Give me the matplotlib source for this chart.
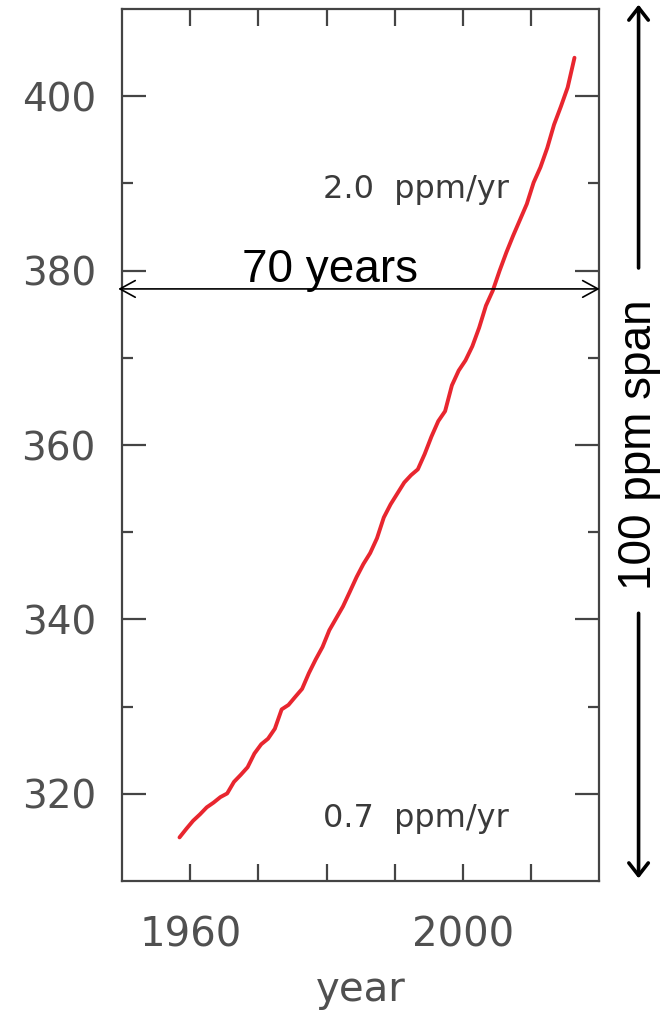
import matplotlib
matplotlib.use("Agg")
import matplotlib.pyplot as plt
from matplotlib.ticker import FixedLocator

# Mauna Loa CO2 annual means (ppm)
years = [1958, 1959, 1960, 1961, 1962, 1963, 1964, 1965, 1966, 1967, 1968, 1969,
         1970, 1971, 1972, 1973, 1974, 1975, 1976, 1977, 1978, 1979, 1980, 1981,
         1982, 1983, 1984, 1985, 1986, 1987, 1988, 1989, 1990, 1991, 1992, 1993,
         1994, 1995, 1996, 1997, 1998, 1999, 2000, 2001, 2002, 2003, 2004, 2005,
         2006, 2007, 2008, 2009, 2010, 2011, 2012, 2013, 2014, 2015, 2016]
co2 = [315.0, 315.98, 316.91, 317.64, 318.45, 318.99, 319.62, 320.04, 321.37,
       322.18, 323.05, 324.62, 325.68, 326.32, 327.46, 329.68, 330.19, 331.12,
       332.03, 333.84, 335.41, 336.84, 338.76, 340.12, 341.48, 343.15, 344.85,
       346.35, 347.61, 349.31, 351.69, 353.20, 354.45, 355.70, 356.54, 357.21,
       358.96, 360.97, 362.74, 363.88, 366.84, 368.54, 369.71, 371.32, 373.45,
       375.98, 377.70, 379.98, 382.09, 384.02, 385.83, 387.64, 390.10, 391.85,
       394.06, 396.74, 398.81, 401.01, 404.41]
x_mid = [y + 0.4 for y in years]

x_ticks = [1960, 1970, 1980, 1990, 2000, 2010]
x_labels = ["1960", "", "", "", "2000", ""]
y_major = [320, 340, 360, 380, 400]
y_minor = [330, 350, 370, 390]
rate_low = "0.7  ppm/yr"
rate_high = "2.0  ppm/yr"

W, H = 669, 1013
fig = plt.figure(figsize=(W / 100, H / 100), dpi=100)
ax = fig.add_axes([122.3 / W, 1 - 881 / H, (599 - 122.3) / W, (881 - 9) / H])

ax.plot(x_mid, co2, color="#e8262f", lw=2.8, solid_capstyle="round",
        solid_joinstyle="round")

ax.set_xlim(1950, 2020)
ax.set_ylim(310, 410)

grey = "#444444"
lab = "#505050"
for s in ax.spines.values():
    s.set_color(grey)
    s.set_linewidth(1.6)

ax.xaxis.set_major_locator(FixedLocator(x_ticks))
ax.set_xticklabels(x_labels)
ax.yaxis.set_major_locator(FixedLocator(y_major))
ax.yaxis.set_minor_locator(FixedLocator(y_minor))
ax.tick_params(axis="x", which="major", direction="in", length=12, width=1.6,
               color=grey, top=True, bottom=True, labelsize=29, labelcolor=lab, pad=25)
ax.tick_params(axis="y", which="major", direction="in", length=17, width=1.6,
               color=grey, left=True, right=True, labelsize=28, labelcolor=lab, pad=19)
ax.tick_params(axis="y", which="minor", direction="in", length=8, width=1.6,
               color=grey, left=True, right=True)
ax.set_xlabel("year", fontsize=29, color=lab, labelpad=10)

ax.text(1979.4, 389.3, rate_high, fontsize=23, color="#3a3a3a", va="center", ha="left")
ax.text(1979.4, 317.2, rate_low, fontsize=23, color="#3a3a3a", va="center", ha="left")

# 70 years arrow
ax.annotate("", xy=(1949.4, 377.9), xytext=(2020.1, 377.9),
            arrowprops=dict(arrowstyle="<->,head_length=0.55,head_width=0.3",
                            lw=1.2, color="black", shrinkA=0, shrinkB=0, mutation_scale=20),
            annotation_clip=False)
ax.text(1980.5, 377.6, "70 years", fontsize=33, family="Liberation Sans",
        ha="center", va="bottom", color="black")

# 100 ppm span arrows
xa = 1.083
trans = ax.get_yaxis_transform()
ax.annotate("", xy=(xa, 410.5), xycoords=trans, xytext=(xa, 380.3), textcoords=trans,
            arrowprops=dict(arrowstyle="->,head_length=0.45,head_width=0.35",
                            lw=2.6, color="black", shrinkA=0, shrinkB=0, mutation_scale=20),
            annotation_clip=False)
ax.annotate("", xy=(xa, 310.3), xycoords=trans, xytext=(xa, 340.7), textcoords=trans,
            arrowprops=dict(arrowstyle="->,head_length=0.45,head_width=0.35",
                            lw=2.6, color="black", shrinkA=0, shrinkB=0, mutation_scale=20),
            annotation_clip=False)
ax.text(xa, 360.0, "100 ppm span", transform=trans, rotation=90, fontsize=33,
        family="Liberation Sans", ha="center", va="center", color="black")

fig.savefig("out.png", dpi=100)
